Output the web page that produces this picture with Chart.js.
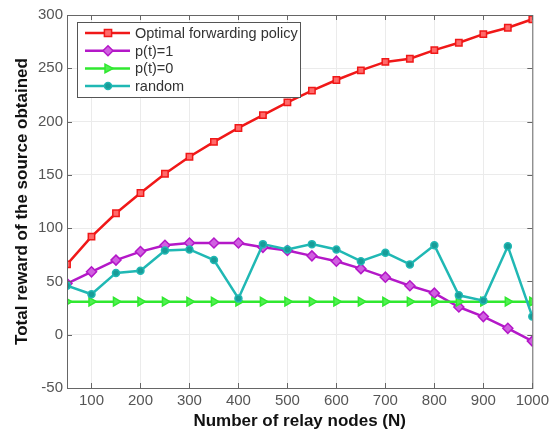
<!DOCTYPE html>
<html>
<head>
<meta charset="utf-8">
<script src="https://cdn.jsdelivr.net/npm/chart.js@4/dist/chart.umd.min.js"></script>
<style>
    html, body { margin: 0; padding: 0; background: #fff; }
    #wrap { width: 553px; height: 432px; }
</style>
</head>
<body>
<div id="wrap"><canvas id="chart-reward"></canvas></div>
<script>
(function () {
    // ===== 데이터 =====
    const relayNodes = [50, 100, 150, 200, 250, 300, 350, 400, 450, 500, 550, 600, 650, 700, 750, 800, 850, 900, 950, 1000];
    const optimalPolicy = [66, 92, 114, 133, 151, 167, 181, 194, 206, 218, 229, 239, 248, 256, 259, 267, 274, 282, 288, 296];
    const alwaysForward = [48, 59, 70, 78, 84, 86, 86, 86, 82, 79, 74, 69, 62, 54, 46, 39, 26, 17, 6, -6];
    const neverForward = [31, 31, 31, 31, 31, 31, 31, 31, 31, 31, 31, 31, 31, 31, 31, 31, 31, 31, 31, 31];
    const randomPolicy = [46, 38, 58, 60, 79, 80, 70, 34, 85, 80, 85, 80, 69, 77, 66, 84, 37, 32, 83, 17];
    const seriesLabels = ['Optimal forwarding policy', 'p(t)=1', 'p(t)=0', 'random'];
    const xTicks = [100, 200, 300, 400, 500, 600, 700, 800, 900, 1000];
    const yTicks = [-50, 0, 50, 100, 150, 200, 250, 300];

    const FONT = '"Liberation Sans", Arial, sans-serif';

    function toPoints(values) {
        return values.map(function (v, i) { return { x: relayNodes[i], y: v }; });
    }

    const styles = [
        { line: '#f01818', fill: '#ff6a6a', point: 'rect', radius: 4.5, rotation: 0 },
        { line: '#b418c8', fill: '#d060e0', point: 'rectRot', radius: 5, rotation: 0 },
        { line: '#30e830', fill: '#50f050', point: 'triangle', radius: 5, rotation: 90 },
        { line: '#20b8b4', fill: '#189c98', point: 'circle', radius: 3.5, rotation: 0 }
    ];
    const seriesValues = [optimalPolicy, alwaysForward, neverForward, randomPolicy];

    const datasets = seriesValues.map(function (vals, i) {
        const s = styles[i];
        return {
            label: seriesLabels[i],
            data: toPoints(vals),
            borderColor: s.line,
            backgroundColor: s.fill,
            pointBorderColor: s.line,
            pointBackgroundColor: s.fill,
            pointStyle: s.point,
            pointRadius: s.radius,
            pointRotation: s.rotation,
            pointBorderWidth: 1.5,
            borderWidth: 2.5,
            tension: 0,
            order: 4 - i
        };
    });

    // ===== 플롯 박스 + 범례 (MATLAB 스타일) =====
    function drawMarker(ctx, s, x, y) {
        ctx.save();
        ctx.fillStyle = s.fill;
        ctx.strokeStyle = s.line;
        ctx.lineWidth = 1.5;
        const r = s.radius;
        ctx.beginPath();
        if (s.point === 'rect') {
            ctx.rect(x - r * 0.8, y - r * 0.8, r * 1.6, r * 1.6);
        } else if (s.point === 'rectRot') {
            ctx.moveTo(x, y - r); ctx.lineTo(x + r, y); ctx.lineTo(x, y + r); ctx.lineTo(x - r, y); ctx.closePath();
        } else if (s.point === 'triangle') {
            ctx.moveTo(x + r, y); ctx.lineTo(x - r * 0.6, y - r * 0.85); ctx.lineTo(x - r * 0.6, y + r * 0.85); ctx.closePath();
        } else {
            ctx.arc(x, y, r, 0, Math.PI * 2);
        }
        ctx.fill();
        ctx.stroke();
        ctx.restore();
    }

    const boxPlugin = {
        id: 'matlabBox',
        afterDatasetsDraw: function (chart) {
            const a = chart.chartArea;
            const ctx = chart.ctx;
            const xs = chart.scales.x;
            const ys = chart.scales.y;
            ctx.save();
            ctx.strokeStyle = '#666';
            ctx.lineWidth = 1;
            ctx.strokeRect(a.left + 0.5, a.top + 0.5, a.right - a.left, a.bottom - a.top);
            // 안쪽 눈금
            ctx.beginPath();
            xTicks.forEach(function (t) {
                const px = Math.round(xs.getPixelForValue(t)) + 0.5;
                ctx.moveTo(px, a.bottom); ctx.lineTo(px, a.bottom - 5);
                ctx.moveTo(px, a.top); ctx.lineTo(px, a.top + 5);
            });
            yTicks.forEach(function (t) {
                const py = Math.round(ys.getPixelForValue(t)) + 0.5;
                ctx.moveTo(a.left, py); ctx.lineTo(a.left + 5, py);
                ctx.moveTo(a.right, py); ctx.lineTo(a.right - 5, py);
            });
            ctx.stroke();

            // 범례
            const lx = 77, ly = 22, lw = 223, lh = 75;
            ctx.fillStyle = '#fff';
            ctx.fillRect(lx, ly, lw, lh);
            ctx.strokeStyle = '#555';
            ctx.strokeRect(lx + 0.5, ly + 0.5, lw, lh);
            ctx.font = '14.5px ' + FONT;
            ctx.textBaseline = 'middle';
            seriesLabels.forEach(function (label, i) {
                const y = ly + 11 + i * 17.7;
                const s = styles[i];
                ctx.strokeStyle = s.line;
                ctx.lineWidth = 2.5;
                ctx.beginPath();
                ctx.moveTo(85, y); ctx.lineTo(130, y);
                ctx.stroke();
                drawMarker(ctx, s, 108, y);
                ctx.fillStyle = '#333';
                ctx.fillText(label, 135, y + 1);
            });
            ctx.restore();
        }
    };

    // ===== 차트 =====
    const ctx = document.getElementById('chart-reward');
    new Chart(ctx, {
        type: 'line',
        data: { datasets: datasets },
        options: {
            responsive: true,
            maintainAspectRatio: false,
            animation: false,
            layout: { padding: { top: 15, right: 16, left: 0, bottom: 0 } },
            plugins: {
                legend: { display: false },
                tooltip: { enabled: false }
            },
            scales: {
                x: {
                    type: 'linear',
                    min: 50,
                    max: 1000,
                    afterBuildTicks: function (scale) {
                        scale.ticks = xTicks.map(function (v) { return { value: v }; });
                    },
                    afterFit: function (scale) { scale.height = 44; },
                    grid: { color: '#ebebeb', drawTicks: false },
                    border: { display: false },
                    ticks: {
                        padding: 4,
                        color: '#555',
                        font: { family: FONT, size: 15 },
                        maxRotation: 0,
                        autoSkip: false,
                        callback: function (v) { return String(v); }
                    },
                    title: {
                        display: true,
                        text: 'Number of relay nodes (N)',
                        color: '#111',
                        font: { family: FONT, size: 17, weight: 'bold' },
                        padding: { top: 0, bottom: 0 }
                    }
                },
                y: {
                    min: -50,
                    max: 300,
                    afterBuildTicks: function (scale) {
                        scale.ticks = yTicks.map(function (v) { return { value: v }; });
                    },
                    afterFit: function (scale) { scale.width = 67; },
                    grid: { color: '#ebebeb', drawTicks: false },
                    border: { display: false },
                    ticks: {
                        padding: 4,
                        color: '#555',
                        font: { family: FONT, size: 15 },
                        callback: function (v) { return String(v); }
                    },
                    title: {
                        display: true,
                        text: 'Total reward of the source obtained',
                        color: '#111',
                        font: { family: FONT, size: 17, weight: 'bold' },
                        padding: { top: 12.5, bottom: 0 }
                    }
                }
            }
        },
        plugins: [boxPlugin]
    });
})();
</script>
</body>
</html>
